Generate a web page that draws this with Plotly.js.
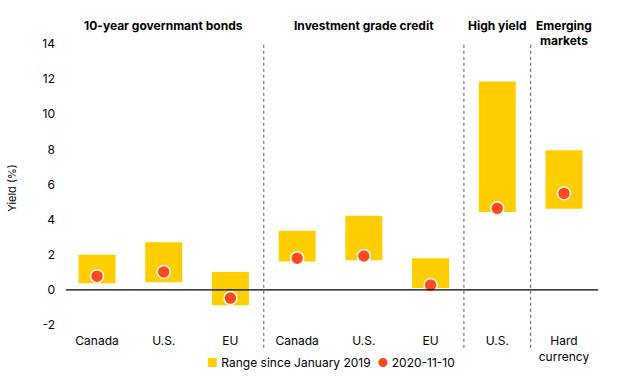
<!DOCTYPE html>
<html><head><meta charset="utf-8">
<script src="https://cdn.plot.ly/plotly-3.0.1.min.js"></script>
<style>html,body{margin:0;padding:0;background:#fff}#chart{width:620px;height:385px}</style>
</head><body><div id="chart"></div>
<script>
const categories = ["Canada", "U.S.", "EU", "Canada", "U.S.", "EU", "U.S.", "Hard<br>currency"];
const rangeLow  = [0.38, 0.44, -0.87, 1.61, 1.69, 0.11, 4.43, 4.62];
const rangeHigh = [2.00, 2.71, 1.02, 3.37, 4.22, 1.80, 11.87, 7.95];
const latest    = [0.78, 1.02, -0.47, 1.80, 1.93, 0.27, 4.64, 5.49];
const groupLabels = ["10-year governmant bonds", "Investment grade credit", "High yield", "Emerging", "markets"];
const groupCenters = [1, 4, 6, 7, 7];
const dividers = [2.5, 5.5, 6.5];
const yTicks = [-2, 0, 2, 4, 6, 8, 10, 12, 14];
const legendNames = ["Range since January 2019", "2020-11-10"];

const xIdx = categories.map((_, i) => i);
const FONT = "Inter, 'Open Sans', sans-serif";
const YELLOW = "#FFCE00", RED = "#FF4A1C";

const traces = [
  {
    type: "bar", name: legendNames[0],
    x: xIdx, y: rangeHigh.map((h, i) => h - rangeLow[i]), base: rangeLow,
    width: 0.555, marker: {color: YELLOW}, hoverinfo: "skip", showlegend: false
  },
  {
    type: "scatter", mode: "markers", name: legendNames[1],
    x: xIdx, y: latest, showlegend: false,
    marker: {color: RED, size: 13, line: {color: "#fff", width: 1.5}}
  }
];

const shapes = dividers.map(d => ({
  type: "line", xref: "x", yref: "paper", x0: d, x1: d, y0: -0.055, y1: 1.0,
  line: {color: "#555", width: 1, dash: "dot"}
}));
shapes.push({type: "line", xref: "paper", yref: "y", x0: 0, x1: 1, y0: 0, y1: 0,
  line: {color: "#000", width: 1.3}});

const headerShift = [9, 9, 9, 9, -6];
const annotations = groupLabels.map((t, i) => ({
  x: groupCenters[i], xref: "x", y: 1.0, yref: "paper", yanchor: "bottom", yshift: headerShift[i],
  text: "<b>" + t + "</b>", showarrow: false,
  font: {family: FONT, size: 12, color: "#000"}
}));

const L = 66, R = 22, T = 43.6, B = 52.8, W = 620, H = 385;
annotations.push({
  x: (331 - L) / (W - L - R), xref: "paper", y: ((H - B) - 363) / (H - T - B), yref: "paper",
  showarrow: false,
  text: "<span style='color:" + YELLOW + "'>■</span> " + legendNames[0] +
        "  <span style='color:" + RED + "'>●</span> " + legendNames[1],
  font: {family: FONT, size: 12, color: "#000"}, xanchor: "center", yanchor: "middle"
});

const layout = {
  width: W, height: H,
  margin: {l: L, r: R, t: T, b: B, autoexpand: false},
  paper_bgcolor: "#fff", plot_bgcolor: "#fff",
  font: {family: FONT, size: 12, color: "#000"},
  showlegend: false,
  xaxis: {
    range: [-0.465, 7.51], tickmode: "array", tickvals: xIdx, ticktext: categories,
    showgrid: false, zeroline: false, showline: false, ticks: "",
    tickfont: {family: FONT, size: 12, color: "#000"}, automargin: false
  },
  yaxis: {
    range: [-2.4, 14], tickmode: "array", tickvals: yTicks, ticktext: yTicks.map(String),
    showgrid: false, zeroline: false, showline: false, ticks: "", ticklabelstandoff: 10,
    tickfont: {family: FONT, size: 12, color: "#000"}, automargin: false,
    title: {text: "Yield (%)", font: {family: FONT, size: 11, color: "#000"}, standoff: 23}
  },
  shapes: shapes,
  annotations: annotations
};
Plotly.newPlot("chart", traces, layout, {displayModeBar: false, staticPlot: true});
</script></body></html>
